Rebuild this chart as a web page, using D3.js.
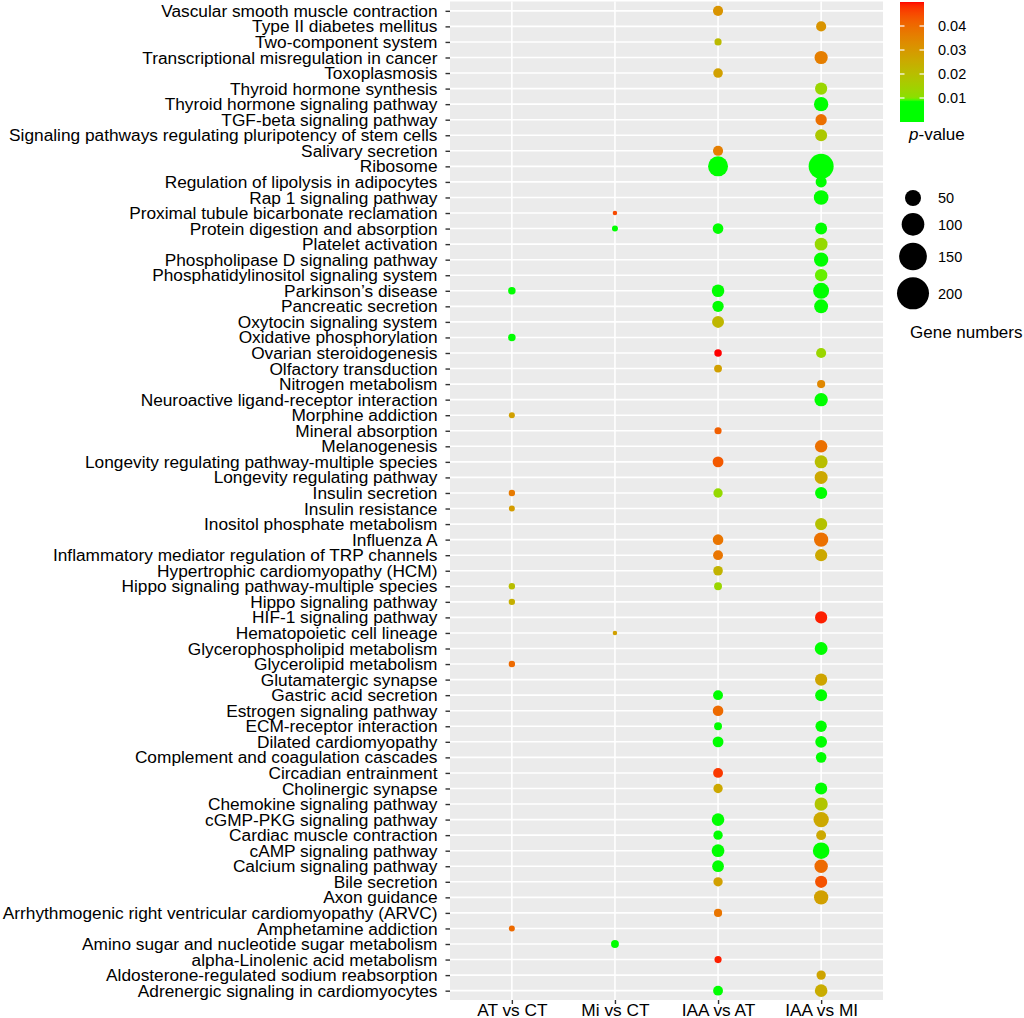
<!DOCTYPE html>
<html>
<head>
<meta charset="utf-8">
<script src="https://cdn.jsdelivr.net/npm/d3@7/dist/d3.min.js"></script>
<style>
  html, body { margin: 0; padding: 0; background: #ffffff; }
  svg { display: block; }
  text { font-family: "Liberation Sans", Arial, sans-serif; }
</style>
</head>
<body>
<svg id="chart" width="1024" height="1018"></svg>
<script>
// ---------- data ----------
const categories = [
  "Vascular smooth muscle contraction",
  "Type II diabetes mellitus",
  "Two-component system",
  "Transcriptional misregulation in cancer",
  "Toxoplasmosis",
  "Thyroid hormone synthesis",
  "Thyroid hormone signaling pathway",
  "TGF-beta signaling pathway",
  "Signaling pathways regulating pluripotency of stem cells",
  "Salivary secretion",
  "Ribosome",
  "Regulation of lipolysis in adipocytes",
  "Rap 1 signaling pathway",
  "Proximal tubule bicarbonate reclamation",
  "Protein digestion and absorption",
  "Platelet activation",
  "Phospholipase D signaling pathway",
  "Phosphatidylinositol signaling system",
  "Parkinson\u2019s disease",
  "Pancreatic secretion",
  "Oxytocin signaling system",
  "Oxidative phosphorylation",
  "Ovarian steroidogenesis",
  "Olfactory transduction",
  "Nitrogen metabolism",
  "Neuroactive ligand-receptor interaction",
  "Morphine addiction",
  "Mineral absorption",
  "Melanogenesis",
  "Longevity regulating pathway-multiple species",
  "Longevity regulating pathway",
  "Insulin secretion",
  "Insulin resistance",
  "Inositol phosphate metabolism",
  "Influenza A",
  "Inflammatory mediator regulation of TRP channels",
  "Hypertrophic cardiomyopathy (HCM)",
  "Hippo signaling pathway-multiple species",
  "Hippo signaling pathway",
  "HIF-1 signaling pathway",
  "Hematopoietic cell lineage",
  "Glycerophospholipid metabolism",
  "Glycerolipid metabolism",
  "Glutamatergic synapse",
  "Gastric acid secretion",
  "Estrogen signaling pathway",
  "ECM-receptor interaction",
  "Dilated cardiomyopathy",
  "Complement and coagulation cascades",
  "Circadian entrainment",
  "Cholinergic synapse",
  "Chemokine signaling pathway",
  "cGMP-PKG signaling pathway",
  "Cardiac muscle contraction",
  "cAMP signaling pathway",
  "Calcium signaling pathway",
  "Bile secretion",
  "Axon guidance",
  "Arrhythmogenic right ventricular cardiomyopathy (ARVC)",
  "Amphetamine addiction",
  "Amino sugar and nucleotide sugar metabolism",
  "alpha-Linolenic acid metabolism",
  "Aldosterone-regulated sodium reabsorption",
  "Adrenergic signaling in cardiomyocytes"
];

const groups = ["AT vs CT", "Mi vs CT", "IAA vs AT", "IAA vs MI"];

const n = null;
// gene numbers per comparison (one entry per category, top to bottom)
const genesATvsCT = [
  n,n,n,n,n,n,n,n,
  n,n,n,n,n,n,n,n,
  n,n,11,n,n,11,n,n,
  n,n,7,n,n,n,n,8,
  7,n,n,n,n,8,8,n,
  n,n,8,n,n,n,n,n,
  n,n,n,n,n,n,n,n,
  n,n,n,7,n,n,n,n
];
const pATvsCT = [
  n,n,n,n,n,n,n,n,
  n,n,n,n,n,n,n,n,
  n,n,0.004,n,n,0.004,n,n,
  n,n,0.028,n,n,n,n,0.037,
  0.029,n,n,n,n,0.020,0.024,n,
  n,n,0.040,n,n,n,n,n,
  n,n,n,n,n,n,n,n,
  n,n,n,0.040,n,n,n,n
];
const genesMivsCT = [
  n,n,n,n,n,n,n,n,
  n,n,n,n,n,4,7,n,
  n,n,n,n,n,n,n,n,
  n,n,n,n,n,n,n,n,
  n,n,n,n,n,n,n,n,
  4,n,n,n,n,n,n,n,
  n,n,n,n,n,n,n,n,
  n,n,n,n,12,n,n,n
];
const pMivsCT = [
  n,n,n,n,n,n,n,n,
  n,n,n,n,n,0.045,0.004,n,
  n,n,n,n,n,n,n,n,
  n,n,n,n,n,n,n,n,
  n,n,n,n,n,n,n,n,
  0.028,n,n,n,n,n,n,n,
  n,n,n,n,n,n,n,n,
  n,n,n,n,0.003,n,n,n
];
const genesIAAvsAT = [
  20,n,10,n,18,n,n,n,
  n,20,78,n,n,n,22,n,
  n,n,31,25,28,n,11,12,
  n,n,n,10,n,23,n,17,
  n,n,22,19,18,12,n,n,
  n,n,n,n,19,22,12,23,
  n,19,17,n,31,17,32,27,
  17,n,13,n,n,10,n,19
];
const pIAAvsAT = [
  0.031,n,0.021,n,0.028,n,n,n,
  n,0.036,0.001,n,n,n,0.003,n,
  n,n,0.003,0.004,0.022,n,0.050,0.028,
  n,n,n,0.042,n,0.043,n,0.012,
  n,n,0.038,0.038,0.023,0.013,n,n,
  n,n,n,n,0.003,0.040,0.003,0.003,
  n,0.047,0.026,n,0.002,0.003,0.002,0.003,
  0.028,n,0.038,n,n,0.049,n,0.005
];
const genesIAAvsMI = [
  n,20,n,34,n,29,40,25,
  28,n,122,24,42,n,28,32,
  40,30,50,38,n,n,20,n,
  13,35,n,n,30,33,33,29,
  n,29,40,29,n,n,n,29,
  n,32,n,29,28,n,25,27,
  22,n,29,34,46,19,54,35,
  29,40,n,n,n,n,17,31
];
const pIAAvsMI = [
  n,0.031,n,0.036,n,0.013,0.004,0.039,
  0.017,n,0.0005,0.003,0.002,n,0.003,0.012,
  0.004,0.0095,0.002,0.003,n,n,0.013,n,
  0.034,0.003,n,n,0.039,0.020,0.026,0.004,
  n,0.019,0.039,0.026,n,n,n,0.049,
  n,0.003,n,0.027,0.004,n,0.003,0.003,
  0.004,n,0.003,0.018,0.026,0.026,0.001,0.040,
  0.044,0.028,n,n,n,n,0.027,0.025
];

const colorTicks = [0.01, 0.02, 0.03, 0.04];
const sizeTicks = [50, 100, 150, 200];

// ---------- layout ----------
const svg = d3.select("#chart");
const panel = { left: 450, right: 883, top: 1.5, bottom: 1000 };
const axisFont = "17.3px";

const x = d3.scalePoint().domain(groups).range([panel.left, panel.right]).padding(0.6);
const y = d3.scalePoint().domain(categories).range([panel.top, panel.bottom]).padding(0.6);
const r = d3.scaleSqrt().domain([0, 200]).range([0, 16]);

const pMax = 0.05;
const fullLab = d3.interpolateLab("#00ff00", "#ff0000");
const color = d3.scaleLinear()
  .domain([0, 0.0088, 0.0102, pMax])
  .range(["#00ff00", "#00ff00", fullLab(0.0102 / pMax), "#ff0000"])
  .interpolate(d3.interpolateLab)
  .clamp(true);

// panel background
svg.append("rect")
  .attr("x", panel.left).attr("y", panel.top)
  .attr("width", panel.right - panel.left).attr("height", panel.bottom - panel.top)
  .attr("fill", "#ebebeb");

// grid lines
svg.append("g").selectAll("line").data(categories).join("line")
  .attr("x1", panel.left).attr("x2", panel.right)
  .attr("y1", d => y(d)).attr("y2", d => y(d))
  .attr("stroke", "#ffffff").attr("stroke-width", 1.6);
svg.append("g").selectAll("line").data(groups).join("line")
  .attr("x1", d => x(d)).attr("x2", d => x(d))
  .attr("y1", panel.top).attr("y2", panel.bottom)
  .attr("stroke", "#ffffff").attr("stroke-width", 1.6);

// points
const seriesGenes = [genesATvsCT, genesMivsCT, genesIAAvsAT, genesIAAvsMI];
const seriesP = [pATvsCT, pMivsCT, pIAAvsAT, pIAAvsMI];
const points = [];
groups.forEach((g, gi) => {
  categories.forEach((c, ci) => {
    const v = seriesGenes[gi][ci];
    if (v !== null) points.push({ group: g, cat: c, genes: v, p: seriesP[gi][ci] });
  });
});
svg.append("g").selectAll("circle").data(points).join("circle")
  .attr("cx", d => x(d.group))
  .attr("cy", d => y(d.cat))
  .attr("r", d => r(d.genes))
  .attr("fill", d => color(d.p));

// y axis
const yAxis = d3.axisLeft(y).tickSize(4.5).tickPadding(8);
const gy = svg.append("g").attr("transform", `translate(${panel.left},0)`).call(yAxis);
gy.select(".domain").remove();
gy.selectAll(".tick line").attr("stroke", "#333333").attr("stroke-width", 1.4);
gy.selectAll(".tick text").attr("fill", "#000000").style("font-size", axisFont)
  .style("font-family", "'Liberation Sans', Arial, sans-serif");

// x axis
const xAxis = d3.axisBottom(x).tickSize(4).tickPadding(0);
const gx = svg.append("g").attr("transform", `translate(0,${panel.bottom})`).call(xAxis);
gx.select(".domain").remove();
gx.selectAll(".tick line").attr("stroke", "#333333").attr("stroke-width", 1.4);
gx.selectAll(".tick text").attr("fill", "#000000").style("font-size", axisFont)
  .style("font-family", "'Liberation Sans', Arial, sans-serif");

// ---------- colour legend ----------
const cb = { x: 900, w: 24, top: 2, bottom: 122 };
const cy = d3.scaleLinear().domain([0, pMax]).range([cb.bottom, cb.top]);
const defs = svg.append("defs");
const grad = defs.append("linearGradient").attr("id", "pgrad")
  .attr("x1", 0).attr("y1", 1).attr("x2", 0).attr("y2", 0);
d3.range(0, 1.0001, 0.01).forEach(t => {
  grad.append("stop").attr("offset", t).attr("stop-color", color(t * pMax));
});
svg.append("rect").attr("x", cb.x).attr("y", cb.top)
  .attr("width", cb.w).attr("height", cb.bottom - cb.top)
  .attr("fill", "url(#pgrad)");
const cTicks = svg.append("g");
colorTicks.forEach(t => {
  cTicks.append("line").attr("x1", cb.x).attr("x2", cb.x + 4.5)
    .attr("y1", cy(t)).attr("y2", cy(t)).attr("stroke", "#ffffff").attr("stroke-width", 1.2);
  cTicks.append("line").attr("x1", cb.x + cb.w - 4.5).attr("x2", cb.x + cb.w)
    .attr("y1", cy(t)).attr("y2", cy(t)).attr("stroke", "#ffffff").attr("stroke-width", 1.2);
  cTicks.append("text").attr("x", 938).attr("y", cy(t)).attr("dy", "0.36em")
    .style("font-size", "14.5px").attr("fill", "#000").text(t.toFixed(2));
});
const pt = svg.append("text").attr("x", 909).attr("y", 140).style("font-size", "17px").attr("fill", "#000");
pt.append("tspan").style("font-style", "italic").text("p");
pt.append("tspan").text("-value");

// ---------- size legend ----------
const sizeG = svg.append("g");
let cyPos = 198;
sizeTicks.forEach((v, i) => {
  if (i > 0) cyPos += r(sizeTicks[i - 1]) + r(v) + 7;
  sizeG.append("circle").attr("cx", 913).attr("cy", cyPos).attr("r", r(v)).attr("fill", "#000");
  sizeG.append("text").attr("x", 938).attr("y", cyPos).attr("dy", "0.36em")
    .style("font-size", "14.5px").attr("fill", "#000").text(v);
});
svg.append("text").attr("x", 910).attr("y", 338).style("font-size", "17px").attr("fill", "#000")
  .text("Gene numbers");
</script>
</body>
</html>
